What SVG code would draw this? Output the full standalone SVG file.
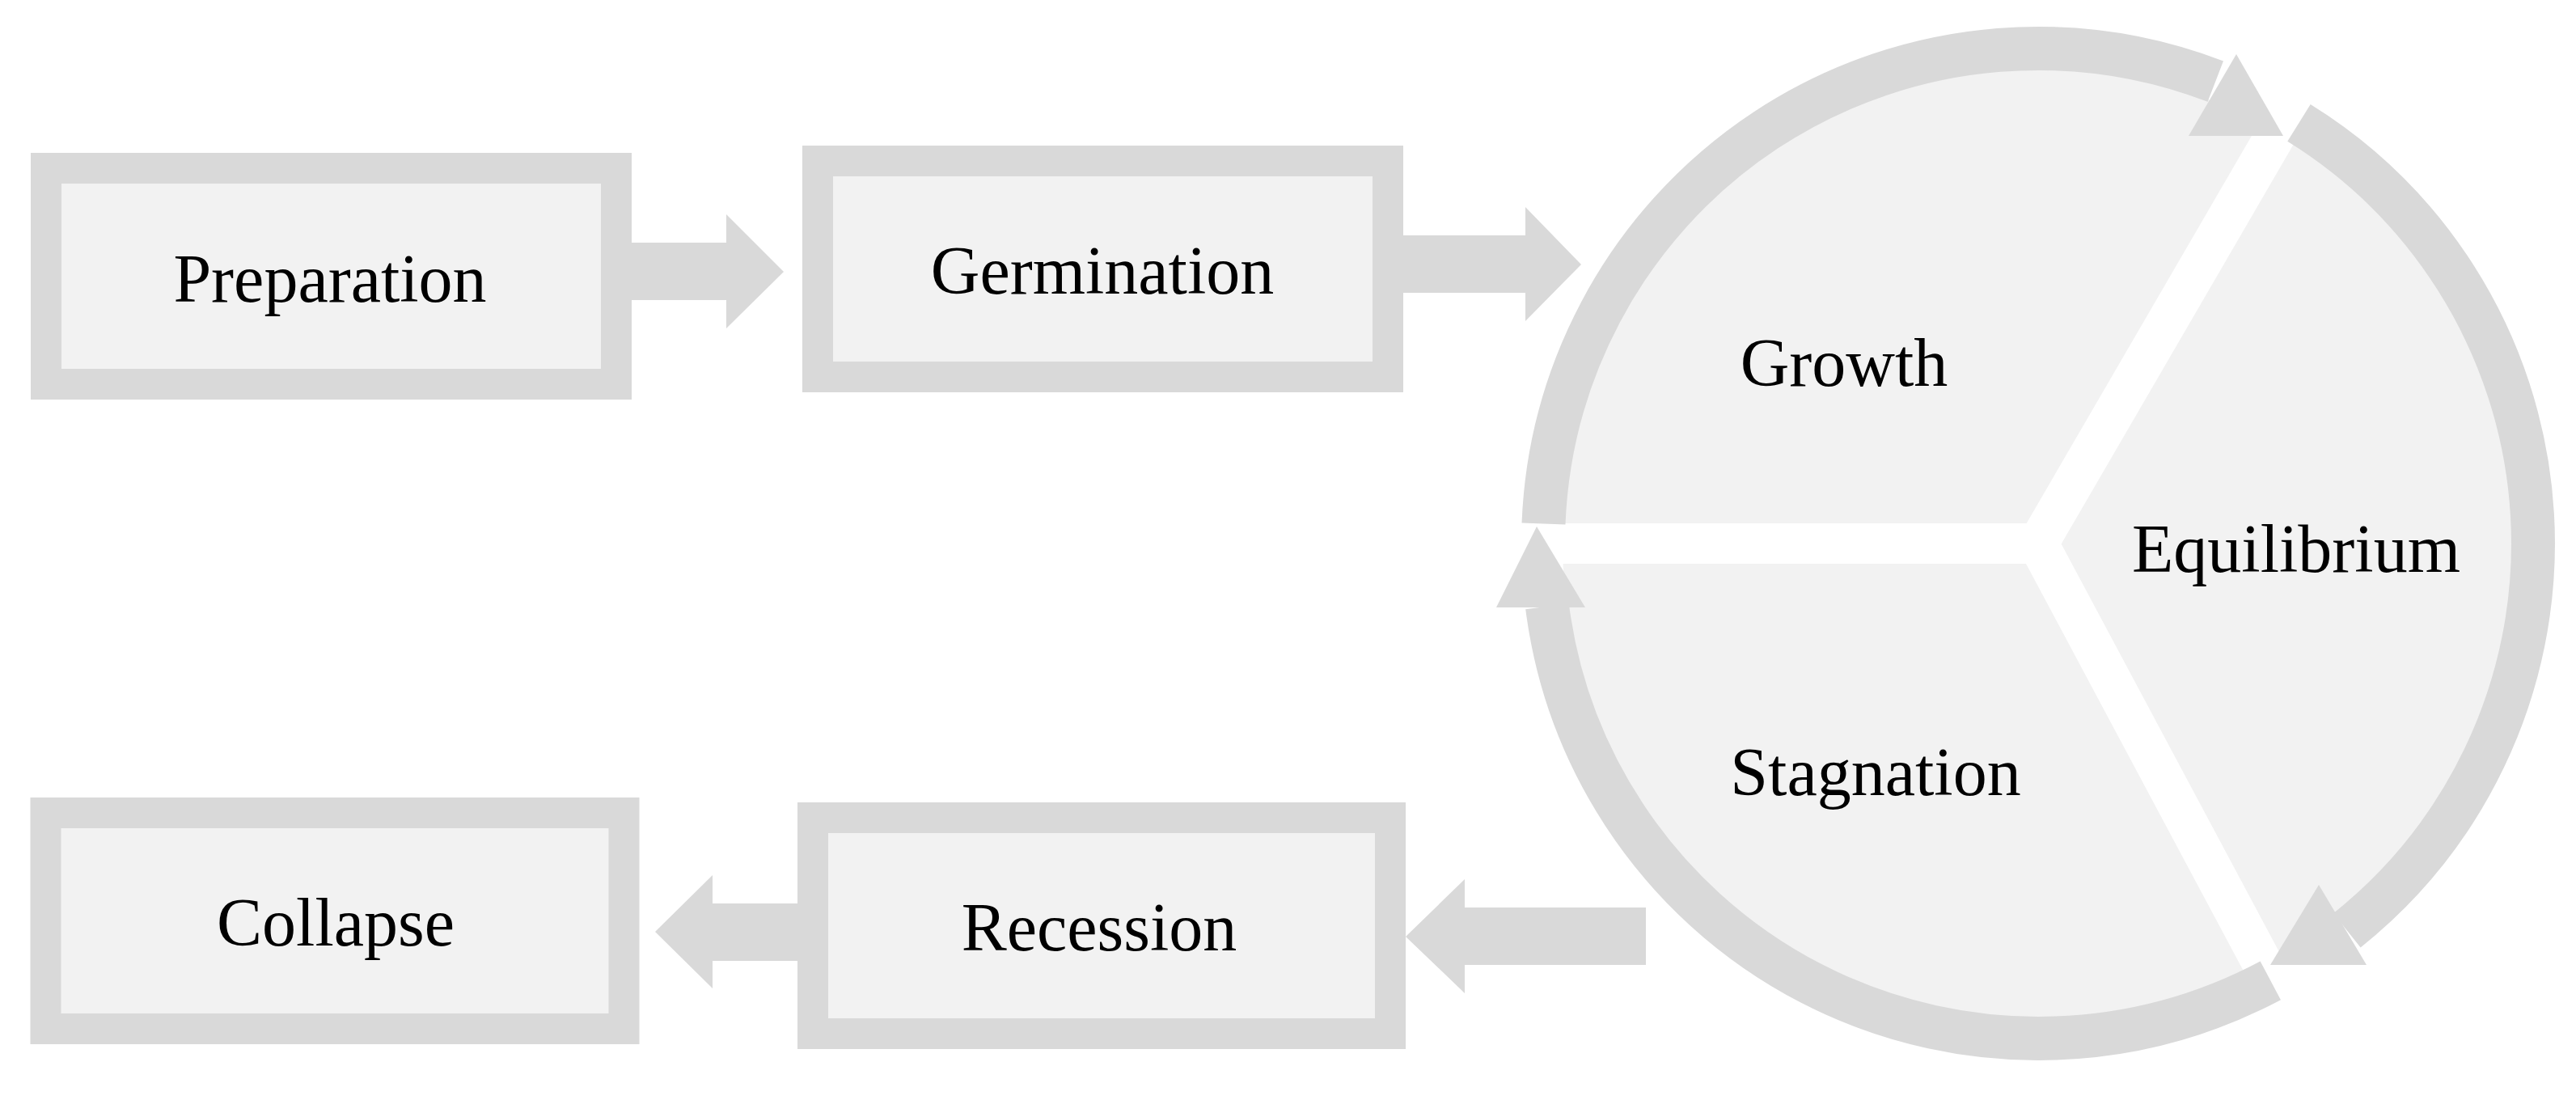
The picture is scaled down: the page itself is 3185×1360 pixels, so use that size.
<svg xmlns="http://www.w3.org/2000/svg" width="3185" height="1360" viewBox="0 0 3185 1360">
<style>
.box{fill:#f2f2f2;stroke:#d9d9d9;stroke-width:38}
.arr{fill:#d9d9d9}
.ring{fill:none;stroke:#d9d9d9;stroke-width:54}
.gap{stroke:#ffffff;stroke-width:50}
text{font-family:"Liberation Serif","DejaVu Serif",serif;font-size:84px;fill:#000;text-anchor:middle}
</style>
<rect width="3185" height="1360" fill="#fff"/>
<g id="cycle">
<circle cx="2520" cy="672" r="588" fill="#f2f2f2"/>
<line class="gap" x1="2520" y1="672" x2="1900" y2="672"/>
<line class="gap" x1="2520" y1="672" x2="2835" y2="130"/>
<line class="gap" x1="2520" y1="672" x2="2810" y2="1215"/>
<path class="ring" d="M1908.5,647.5 A612,612 0 0 1 2739.3,100.6"/>
<polygon class="arr" points="2765,67 2823,168 2706,168"/>
<path class="ring" d="M2842.5,151.9 A612,612 0 0 1 2901.8,1150.3"/>
<polygon class="arr" points="2867,1094 2926,1193 2807,1193"/>
<path class="ring" d="M2807.3,1212.3 A612,612 0 0 1 1913,749.8"/>
<polygon class="arr" points="1900,651 1960,751 1850,751"/>
<text x="2280" y="477">Growth</text>
<text x="2839" y="707">Equilibrium</text>
<text x="2319" y="983">Stagnation</text>
</g>
<g id="connectors">
<polygon class="arr" points="781,300 898,300 898,265 969,336 898,406 898,371 781,371"/>
<polygon class="arr" points="1735,291 1886,291 1886,256 1955,327 1886,397 1886,362 1735,362"/>
<polygon class="arr" points="986,1117 881,1117 881,1082 810,1152 881,1222 881,1188 986,1188"/>
<polygon class="arr" points="2035,1122 1811,1122 1811,1087 1738,1158 1811,1228 1811,1193 2035,1193"/>
</g>
<g id="preparation"><rect class="box" x="57" y="208" width="705" height="267"/><text x="408" y="373">Preparation</text></g>
<g id="germination"><rect class="box" x="1011" y="199" width="705" height="267"/><text x="1363" y="363">Germination</text></g>
<g id="collapse"><rect class="box" x="56.5" y="1005" width="715" height="267"/><text x="415" y="1169">Collapse</text></g>
<g id="recession"><rect class="box" x="1005" y="1011" width="714" height="267"/><text x="1359" y="1175">Recession</text></g>
</svg>
